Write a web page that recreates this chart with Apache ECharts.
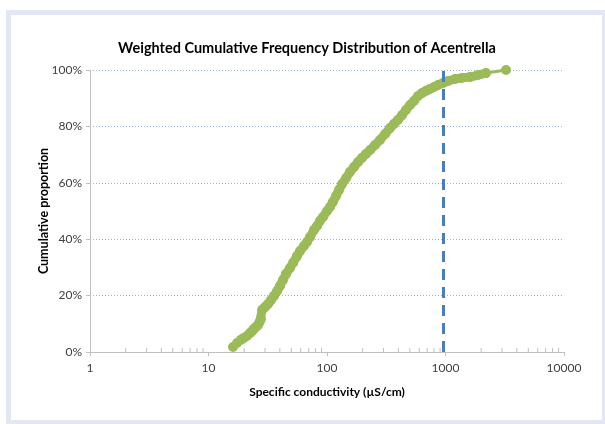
<!DOCTYPE html>
<html>
<head>
<meta charset="utf-8">
<script src="https://cdn.jsdelivr.net/npm/echarts@6/dist/echarts.min.js"></script>
<style>
html,body{margin:0;padding:0;background:#fff;}
#frame{position:absolute;left:6px;top:10px;width:599px;height:414px;box-sizing:border-box;border:5px solid #e3e7f3;border-right-width:3px;border-bottom-width:4px;}
#chart{position:absolute;left:0;top:0;width:605px;height:424px;}
</style>
</head>
<body>
<div id="frame"></div>
<div id="chart"></div>
<script>
// Specific conductivity (µS/cm) values
const conductivity = [16.1, 17.4, 18.8, 19.9, 21.1, 22.4, 23.3, 24.2, 25.2, 26.2, 26.7, 27.2, 27.7, 28.3,
  29.4, 30.6, 31.8, 33.7, 35.7, 37.9, 40.1, 42.5, 45.1, 48.7, 51.7, 55.8, 59.2, 63.9, 67.8, 71.9,
  77.7, 82.3, 87.3, 92.5, 100, 106, 112, 119, 126, 134, 145, 156, 169, 183, 197, 213, 231, 254,
  280, 309, 340, 368, 397, 430, 464, 502, 542, 586, 633, 684, 740, 800, 865, 953, 1050, 1203,
  1378, 1610, 1881, 2197, 3240];
// Cumulative proportion (%)
const proportion = [1.8, 3.2, 4.3, 5.0, 5.7, 6.7, 7.4, 8.2, 8.9, 9.6, 10.3, 11.0, 11.7, 14.9,
  15.6, 16.3, 17.0, 18.4, 19.9, 21.6, 23.4, 25.5, 27.7, 29.8, 31.6, 34.0, 35.8, 37.6, 39.0, 40.8,
  43.3, 44.7, 46.5, 47.9, 50.0, 51.4, 53.2, 55.3, 57.4, 59.6, 61.7, 63.8, 65.6, 67.4, 68.8, 70.2, 71.6, 73.4,
  75.2, 77.3, 79.4, 80.9, 82.3, 84.0, 85.8, 87.6, 89.0, 90.8, 91.8, 92.6, 93.3, 94.0, 94.7, 95.4, 96.1, 96.8,
  97.2, 97.5, 98.2, 98.9, 100];
const thresholdValue = 950;
const xTickLabels = ['1', '10', '100', '1000', '10000'];
const yTickLabels = ['0%', '20%', '40%', '60%', '80%', '100%'];

const minorTickValues = [];
for (let d = 1; d < 10000; d *= 10) {
  for (let m = 2; m <= 9; m++) minorTickValues.push([m * d]);
}

const points = conductivity.map((v, i) => [v, proportion[i]]);
const densePart = points.slice(2, points.length - 1);

const chart = echarts.init(document.getElementById('chart'));
const font = 'Lato, "Open Sans", sans-serif';
const green = '#9bbb59';
chart.setOption({
  animation: false,
  backgroundColor: 'transparent',
  title: {
    text: 'Weighted Cumulative Frequency Distribution of Acentrella',
    left: 302, top: 36, textAlign: 'center',
    textStyle: {fontFamily: font, fontSize: 14.5, fontWeight: 'bold', color: '#000'}
  },
  grid: {left: 90, right: 41, top: 70, bottom: 72},
  xAxis: {
    type: 'log', logBase: 10, min: 1, max: 10000,
    name: 'Specific conductivity (µS/cm)', nameLocation: 'middle', nameGap: 34,
    nameTextStyle: {fontFamily: font, fontSize: 12, fontWeight: 'bold', color: '#000'},
    axisLine: {lineStyle: {color: '#bfbfbf', width: 1}},
    axisTick: {show: true, length: 4, inside: false, lineStyle: {color: '#bfbfbf'}},
    axisLabel: {fontFamily: font, fontSize: 12, color: '#404040', margin: 10,
      formatter: v => xTickLabels[Math.round(Math.log10(v))]},
    splitLine: {show: false}
  },
  yAxis: {
    type: 'value', min: 0, max: 100, interval: 20,
    name: 'Cumulative proportion', nameLocation: 'middle', nameGap: 40, nameRotate: 90,
    nameMoveOverlap: false,
    nameTextStyle: {fontFamily: font, fontSize: 12.5, fontWeight: 'bold', color: '#000'},
    axisLine: {show: true, lineStyle: {color: '#bfbfbf', width: 1}},
    axisTick: {show: true, length: 4, lineStyle: {color: '#bfbfbf'}},
    axisLabel: {fontFamily: font, fontSize: 12, color: '#404040', margin: 8,
      formatter: v => yTickLabels[Math.round(v / 20)]},
    splitLine: {show: true, lineStyle: {color: '#9bb3df', type: [1, 2], width: 1}}
  },
  series: [
    {
      type: 'custom',
      silent: true,
      data: minorTickValues,
      renderItem: (params, api) => {
        const p = api.coord([api.value(0), 0]);
        return {type: 'line', shape: {x1: p[0], y1: p[1], x2: p[0], y2: p[1] - 4},
          style: {stroke: '#bfbfbf', lineWidth: 1}};
      },
      z: 1
    },
    {
      type: 'line',
      data: densePart,
      showSymbol: false,
      symbol: 'none',
      lineStyle: {color: green, width: 9, cap: 'round', join: 'round'},
      silent: true,
      z: 2
    },
    {
      type: 'line',
      data: points,
      symbol: 'circle', symbolSize: 10,
      showSymbol: true,
      itemStyle: {color: green},
      lineStyle: {color: green, width: 3},
      markLine: {
        silent: true, symbol: 'none',
        label: {show: false},
        lineStyle: {color: '#4a7ebb', width: 3, type: [11, 7]},
        data: [{xAxis: thresholdValue}]
      },
      z: 3
    }
  ]
});
</script>
</body>
</html>
